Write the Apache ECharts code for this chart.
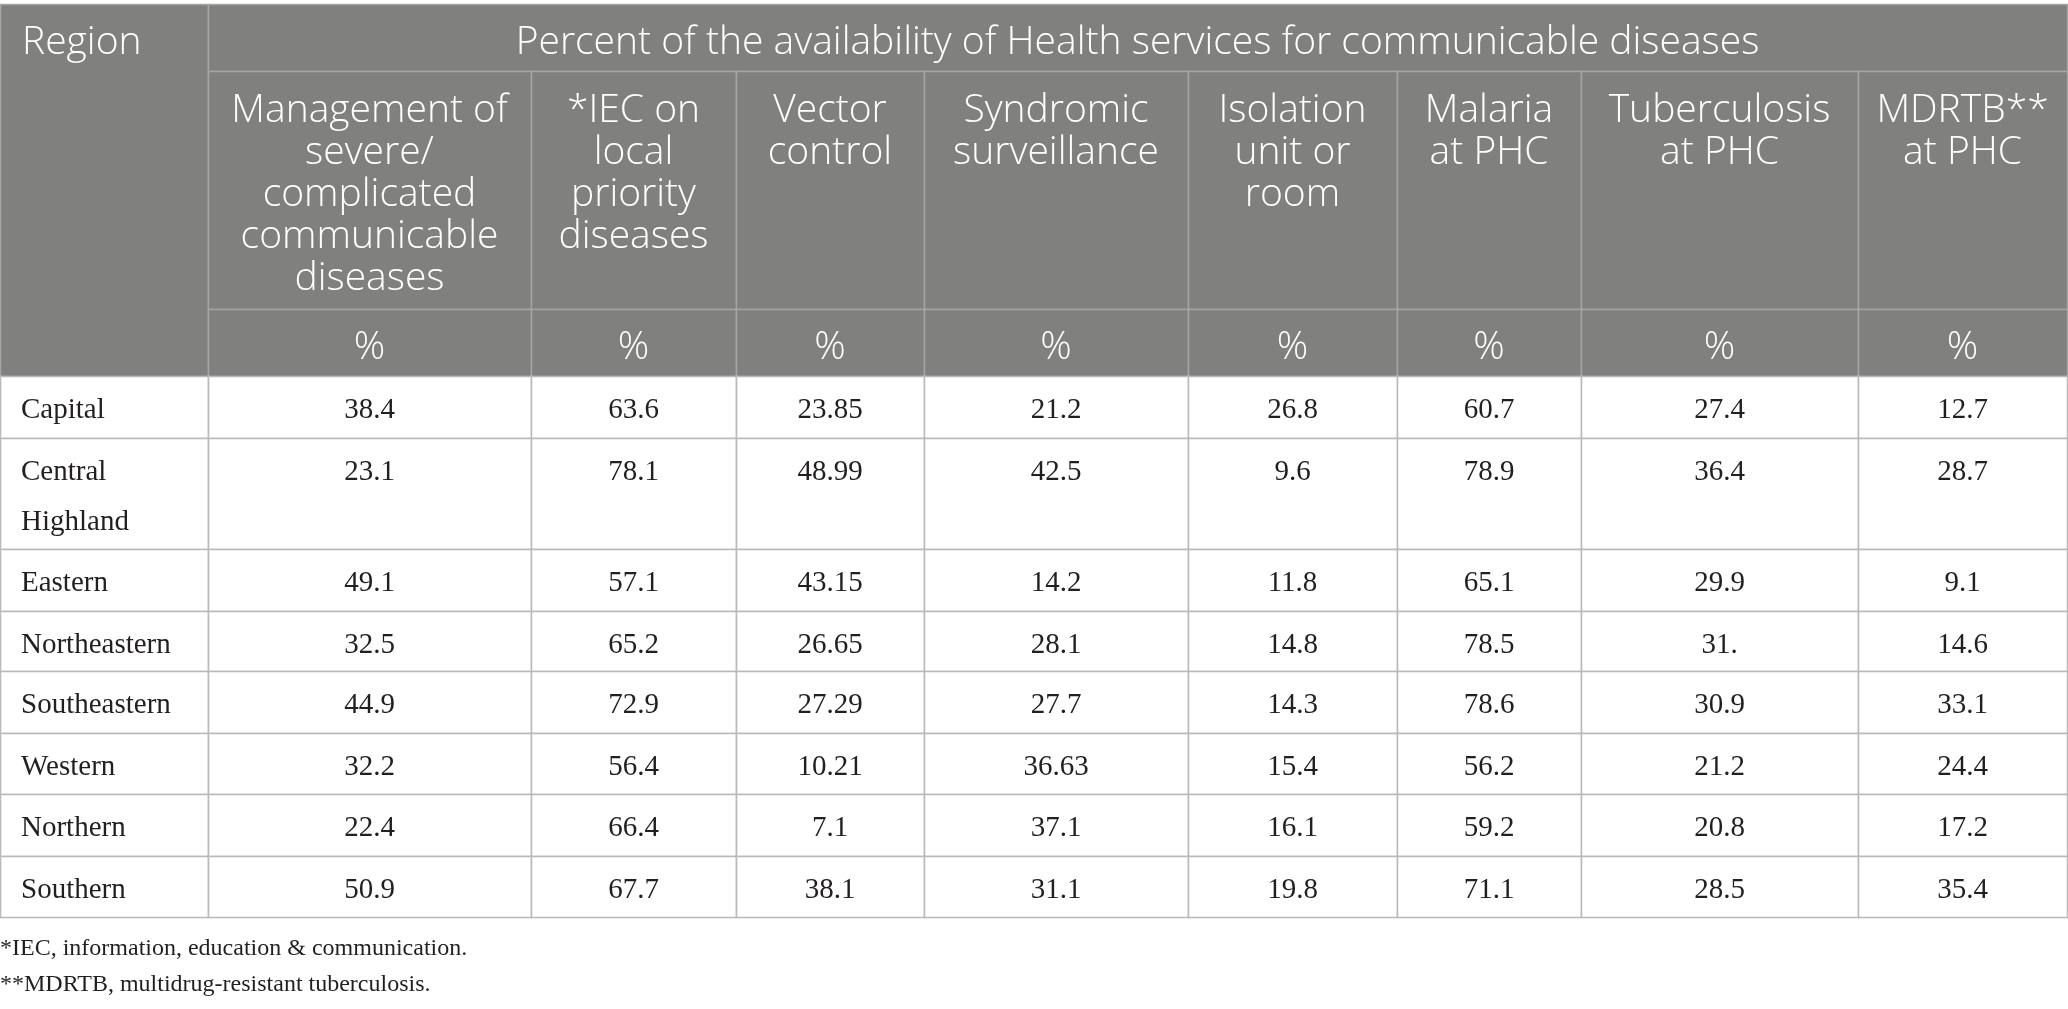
<!DOCTYPE html>
<html>
<head>
<meta charset="utf-8">
<script src="https://cdn.jsdelivr.net/npm/echarts@6/dist/echarts.min.js"></script>
<style>
html,body{margin:0;padding:0;background:#fff;}
#table{width:2068px;height:1009px;}
</style>
</head>
<body>
<div id="table"></div>
<script>
var regions = ['Capital', 'Central Highland', 'Eastern', 'Northeastern', 'Southeastern', 'Western', 'Northern', 'Southern'];
var columns = [
	'Management of\nsevere/\ncomplicated\ncommunicable\ndiseases',
	'*IEC on\nlocal\npriority\ndiseases',
	'Vector\ncontrol',
	'Syndromic\nsurveillance',
	'Isolation\nunit or\nroom',
	'Malaria\nat PHC',
	'Tuberculosis\nat PHC',
	'MDRTB**\nat PHC'
];
var management = ['38.4', '23.1', '49.1', '32.5', '44.9', '32.2', '22.4', '50.9'];
var iec = ['63.6', '78.1', '57.1', '65.2', '72.9', '56.4', '66.4', '67.7'];
var vector = ['23.85', '48.99', '43.15', '26.65', '27.29', '10.21', '7.1', '38.1'];
var syndromic = ['21.2', '42.5', '14.2', '28.1', '27.7', '36.63', '37.1', '31.1'];
var isolation = ['26.8', '9.6', '11.8', '14.8', '14.3', '15.4', '16.1', '19.8'];
var malaria = ['60.7', '78.9', '65.1', '78.5', '78.6', '56.2', '59.2', '71.1'];
var tuberculosis = ['27.4', '36.4', '29.9', '31.', '30.9', '21.2', '20.8', '28.5'];
var mdrtb = ['12.7', '28.7', '9.1', '14.6', '33.1', '24.4', '17.2', '35.4'];

var regionTitle = 'Region';
var groupTitle = 'Percent of the availability of Health services for communicable diseases';
var unit = '%';
var notes = ['*IEC, information, education & communication.', '**MDRTB, multidrug-resistant tuberculosis.'];

// layout (px)
var colW = [208, 323, 205, 188, 264, 209, 184, 277, 209];
var rowH = [67, 238, 67, 62, 111, 62, 60, 62, 61, 62, 61];
var tableTop = 4;

var colX = [0];
for (var i = 0; i < colW.length; i++) colX.push(colX[i] + colW[i]);
var rowY = [tableTop];
for (i = 0; i < rowH.length; i++) rowY.push(rowY[i] + rowH[i]);

var headFont = '"Open Sans", "Noto Sans", sans-serif';
var bodyFont = '"Liberation Serif", "DejaVu Serif", serif';

var values = [management, iec, vector, syndromic, isolation, malaria, tuberculosis, mdrtb];

// cells: [c0, r0, c1, r1], text, kind
var cells = [];
cells.push({value: [0, 0, 1, 3], text: regionTitle, kind: 'headLeft'});
cells.push({value: [1, 0, 9, 1], text: groupTitle, kind: 'headMid'});
for (i = 0; i < columns.length; i++) {
	cells.push({value: [i + 1, 1, i + 2, 2], text: columns[i], kind: 'headCol'});
	cells.push({value: [i + 1, 2, i + 2, 3], text: unit, kind: 'headMid'});
}
for (var r = 0; r < regions.length; r++) {
	cells.push({value: [0, r + 3, 1, r + 4], text: regions[r], kind: 'bodyLeft'});
	for (i = 0; i < values.length; i++) {
		cells.push({value: [i + 1, r + 3, i + 2, r + 4], text: values[i][r], kind: 'bodyMid'});
	}
}

function renderCell(params, api) {
	var d = cells[params.dataIndex];
	var p0 = api.coord([colX[api.value(0)], rowY[api.value(1)]]);
	var p1 = api.coord([colX[api.value(2)], rowY[api.value(3)]]);
	var w = p1[0] - p0[0], h = p1[1] - p0[1];
	var head = d.kind.indexOf('head') === 0;
	var rect = {
		type: 'rect',
		shape: {x: p0[0] + 0.5, y: p0[1] + 0.5, width: w, height: h},
		style: {fill: head ? '#80817f' : '#ffffff', stroke: head ? '#a5a6a4' : '#b9b9b9', lineWidth: 1.5}
	};
	var ts = {text: d.text, fill: head ? '#ffffff' : '#231f20'};
	var hf = '300 39px ' + headFont;
	if (d.kind === 'headLeft') {
		ts.x = p0[0] + 22; ts.y = p0[1] + 39; ts.align = 'left'; ts.verticalAlign = 'middle';
		ts.font = hf;
	} else if (d.kind === 'headMid') {
		ts.x = p0[0] + w / 2; ts.y = p0[1] + h / 2 + 5; ts.align = 'center'; ts.verticalAlign = 'middle';
		ts.font = hf;
	} else if (d.kind === 'headCol') {
		ts.x = p0[0] + w / 2; ts.y = p0[1] + 19; ts.align = 'center'; ts.verticalAlign = 'top';
		ts.font = hf; ts.lineHeight = 42;
	} else if (d.kind === 'bodyLeft') {
		ts.x = p0[0] + 21; ts.y = p0[1] + 9; ts.align = 'left'; ts.verticalAlign = 'top';
		ts.font = '29px ' + bodyFont; ts.lineHeight = 50;
		ts.width = w - 30; ts.overflow = 'break';
	} else {
		ts.x = p0[0] + w / 2; ts.y = p0[1] + 9; ts.align = 'center'; ts.verticalAlign = 'top';
		ts.font = '29px ' + bodyFont; ts.lineHeight = 50;
	}
	return {type: 'group', children: [rect, {type: 'text', style: ts}]};
}

var myChart = echarts.init(document.getElementById('table'), null, {renderer: 'canvas'});

option = {
	backgroundColor: '#ffffff',
	animation: false,
	grid: {left: 0, right: 0, top: 0, bottom: 0},
	xAxis: {type: 'value', min: 0, max: 2068, show: false},
	yAxis: {type: 'value', min: 0, max: 1009, inverse: true, show: false},
	graphic: [
		{type: 'text', left: 0, top: rowY[rowY.length - 1] + 20,
			style: {text: notes[0], font: '24px ' + bodyFont, fill: '#231f20'}},
		{type: 'text', left: 0, top: rowY[rowY.length - 1] + 56,
			style: {text: notes[1], font: '24px ' + bodyFont, fill: '#231f20'}}
	],
	series: [{
		type: 'custom',
		renderItem: renderCell,
		data: cells,
		encode: {x: [0, 2], y: [1, 3]},
		silent: true,
		clip: false
	}]
};

myChart.setOption(option);
</script>
</body>
</html>
